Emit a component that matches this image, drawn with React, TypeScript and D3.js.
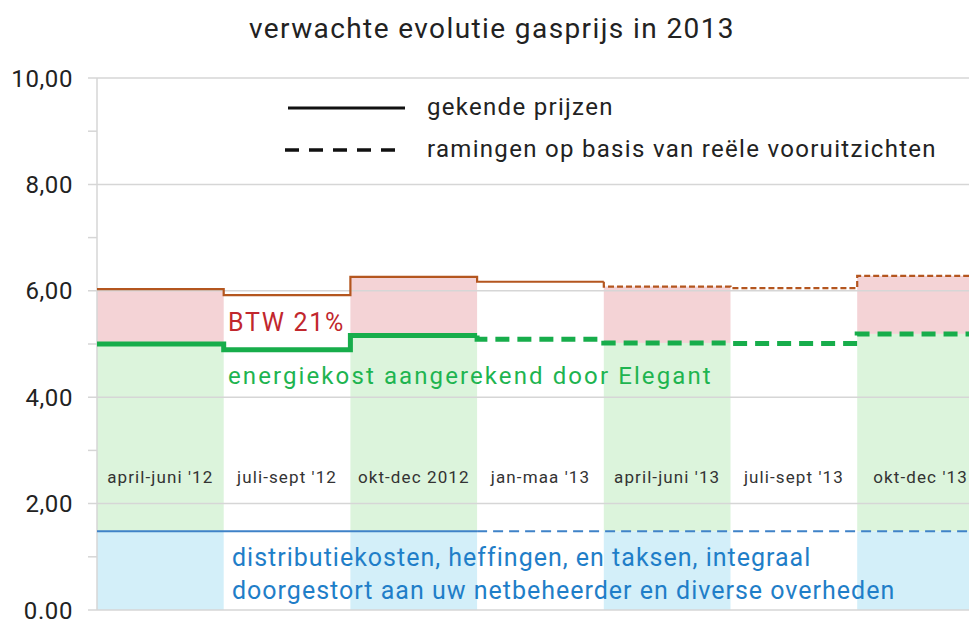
import React, { useRef, useEffect } from 'react';
import * as d3 from 'd3';

// quarters on the x axis
const periods = [
  "april-juni '12",
  "juli-sept '12",
  'okt-dec 2012',
  "jan-maa '13",
  "april-juni '13",
  "juli-sept '13",
  "okt-dec '13",
];

// total price incl. BTW (brown line)
const totalPrice = [6.03, 5.92, 6.26, 6.17, 6.08, 6.05, 6.28];
// energy cost (green line)
const energyCost = [5.0, 4.89, 5.16, 5.09, 5.02, 5.01, 5.19];
// distribution costs, taxes (blue line)
const distribution = [1.48, 1.48, 1.48, 1.48, 1.48, 1.48, 1.48];

// first period index that is an estimate (dashed) per series
const totalFirstEstimate = 4;
const energyFirstEstimate = 3;
const distFirstEstimate = 3;

const yTicks = [0, 2, 4, 6, 8, 10];
const yMinorTicks = [1, 3, 5, 7, 9];
const yTickLabels = ['0.00', '2,00', '4,00', '6,00', '8,00', '10,00'];

const FONT = 'Roboto, "DejaVu Sans", sans-serif';

const App: React.FC = () => {
  const svgRef = useRef<SVGSVGElement>(null);

  useEffect(() => {
    if (!svgRef.current) return;
    const width = 969;
    const height = 619;
    const svg = d3.select(svgRef.current);
    svg.selectAll('*').remove();
    svg.attr('width', width).attr('height', height);

    const left = 97;
    const x = d3.scaleBand<string>().domain(periods).range([left, left + 7 * 126.7]).padding(0);
    const y = d3.scaleLinear().domain([0, 10]).range([610, 78]);
    const bw = x.bandwidth();

    // Fills for alternating columns
    const shaded = periods.filter((_, i) => i % 2 === 0);
    shaded.forEach(p => {
      const i = periods.indexOf(p);
      const x0 = x(p)!;
      svg.append('rect')
        .attr('x', x0).attr('width', bw)
        .attr('y', y(distribution[i])).attr('height', y(0) - y(distribution[i]))
        .attr('fill', '#d3eff9');
      svg.append('rect')
        .attr('x', x0).attr('width', bw)
        .attr('y', y(energyCost[i])).attr('height', y(distribution[i]) - y(energyCost[i]))
        .attr('fill', '#dcf4dc');
      svg.append('rect')
        .attr('x', x0).attr('width', bw)
        .attr('y', y(totalPrice[i])).attr('height', y(energyCost[i]) - y(totalPrice[i]))
        .attr('fill', '#f4d3d6');
    });

    // Grid lines
    yTicks.forEach(t => {
      svg.append('line')
        .attr('x1', 88).attr('x2', width)
        .attr('y1', y(t)).attr('y2', y(t))
        .attr('stroke', '#d6d6d6').attr('stroke-width', 1.5);
    });
    yMinorTicks.forEach(t => {
      svg.append('line')
        .attr('x1', 88).attr('x2', left)
        .attr('y1', y(t)).attr('y2', y(t))
        .attr('stroke', '#d6d6d6').attr('stroke-width', 1.5);
    });
    svg.append('line')
      .attr('x1', left).attr('x2', left)
      .attr('y1', y(10)).attr('y2', y(0))
      .attr('stroke', '#d6d6d6').attr('stroke-width', 1.5);

    // Y labels
    yTicks.forEach((t, i) => {
      svg.append('text')
        .attr('x', 73).attr('y', y(t))
        .attr('dy', '0.36em')
        .attr('text-anchor', 'end')
        .attr('font-family', FONT)
        .attr('font-size', 24)
        .attr('letter-spacing', 0.6)
        .attr('fill', '#222')
        .text(yTickLabels[i]);
    });

    // Step line helper
    const line = d3.line<[number, number]>().x(d => d[0]).y(d => y(d[1])).curve(d3.curveStepAfter);
    const stepPoints = (vals: number[], from: number, to: number) => {
      const pts: [number, number][] = [];
      for (let i = from; i < to; i++) pts.push([x(periods[i])!, vals[i]]);
      pts.push([x(periods[to - 1])! + bw, vals[to - 1]]);
      return pts;
    };
    const drawSeries = (vals: number[], split: number, color: string, w: number, dash: string) => {
      svg.append('path')
        .attr('d', line(stepPoints(vals, 0, split)))
        .attr('fill', 'none').attr('stroke', color).attr('stroke-width', w);
      const dashedPts = stepPoints(vals, split, vals.length);
      dashedPts.unshift([x(periods[split])!, vals[split - 1]]);
      svg.append('path')
        .attr('d', line(dashedPts))
        .attr('fill', 'none').attr('stroke', color).attr('stroke-width', w)
        .attr('stroke-dasharray', dash);
    };
    drawSeries(distribution, distFirstEstimate, '#3f82c8', 2.2, '10,6');
    drawSeries(totalPrice, totalFirstEstimate, '#b4561f', 2.2, '6,3');
    drawSeries(energyCost, energyFirstEstimate, '#17ad4b', 5, '14,8');

    // Period labels
    periods.forEach(p => {
      svg.append('text')
        .attr('x', x(p)! + bw / 2).attr('y', 477)
        .attr('dy', '0.36em')
        .attr('text-anchor', 'middle')
        .attr('font-family', FONT)
        .attr('font-size', 17)
        .attr('letter-spacing', 1.1)
        .attr('fill', '#333')
        .text(p);
    });

    // Series annotations
    svg.append('text')
      .attr('x', 228).attr('y', 331)
      .attr('font-family', FONT).attr('font-size', 25)
      .attr('letter-spacing', 1.7)
      .attr('fill', '#c1272d')
      .text('BTW 21%');
    svg.append('text')
      .attr('x', 228).attr('y', 384)
      .attr('font-family', FONT).attr('font-size', 24)
      .attr('letter-spacing', 2.1)
      .attr('fill', '#1eb450')
      .text('energiekost aangerekend door Elegant');
    svg.append('text')
      .attr('x', 232).attr('y', 566)
      .attr('font-family', FONT).attr('font-size', 25)
      .attr('letter-spacing', 1)
      .attr('fill', '#1f7ec8')
      .text('distributiekosten, heffingen, en taksen, integraal');
    svg.append('text')
      .attr('x', 232).attr('y', 599)
      .attr('font-family', FONT).attr('font-size', 25)
      .attr('letter-spacing', 1)
      .attr('fill', '#1f7ec8')
      .text('doorgestort aan uw netbeheerder en diverse overheden');

    // Legend
    svg.append('line')
      .attr('x1', 288).attr('x2', 405).attr('y1', 108).attr('y2', 108)
      .attr('stroke', '#111').attr('stroke-width', 3);
    svg.append('line')
      .attr('x1', 285).attr('x2', 405).attr('y1', 150).attr('y2', 150)
      .attr('stroke', '#111').attr('stroke-width', 3.5)
      .attr('stroke-dasharray', '14,10');
    svg.append('text')
      .attr('x', 427).attr('y', 108).attr('dy', '0.3em')
      .attr('font-family', FONT).attr('font-size', 24).attr('letter-spacing', 1.3).attr('fill', '#222')
      .text('gekende prijzen');
    svg.append('text')
      .attr('x', 427).attr('y', 150).attr('dy', '0.3em')
      .attr('font-family', FONT).attr('font-size', 24).attr('letter-spacing', 1.3).attr('fill', '#222')
      .text('ramingen op basis van reële vooruitzichten');

    // Title
    svg.append('text')
      .attr('x', 492).attr('y', 38)
      .attr('text-anchor', 'middle')
      .attr('font-family', FONT).attr('font-size', 28).attr('letter-spacing', 1.4).attr('fill', '#222')
      .text('verwachte evolutie gasprijs in 2013');
  }, []);

  return (
    <div style={{ position: 'absolute', left: 0, top: 0, background: '#fff' }}>
      <svg ref={svgRef} style={{ display: 'block' }} />
    </div>
  );
};

export default App;
